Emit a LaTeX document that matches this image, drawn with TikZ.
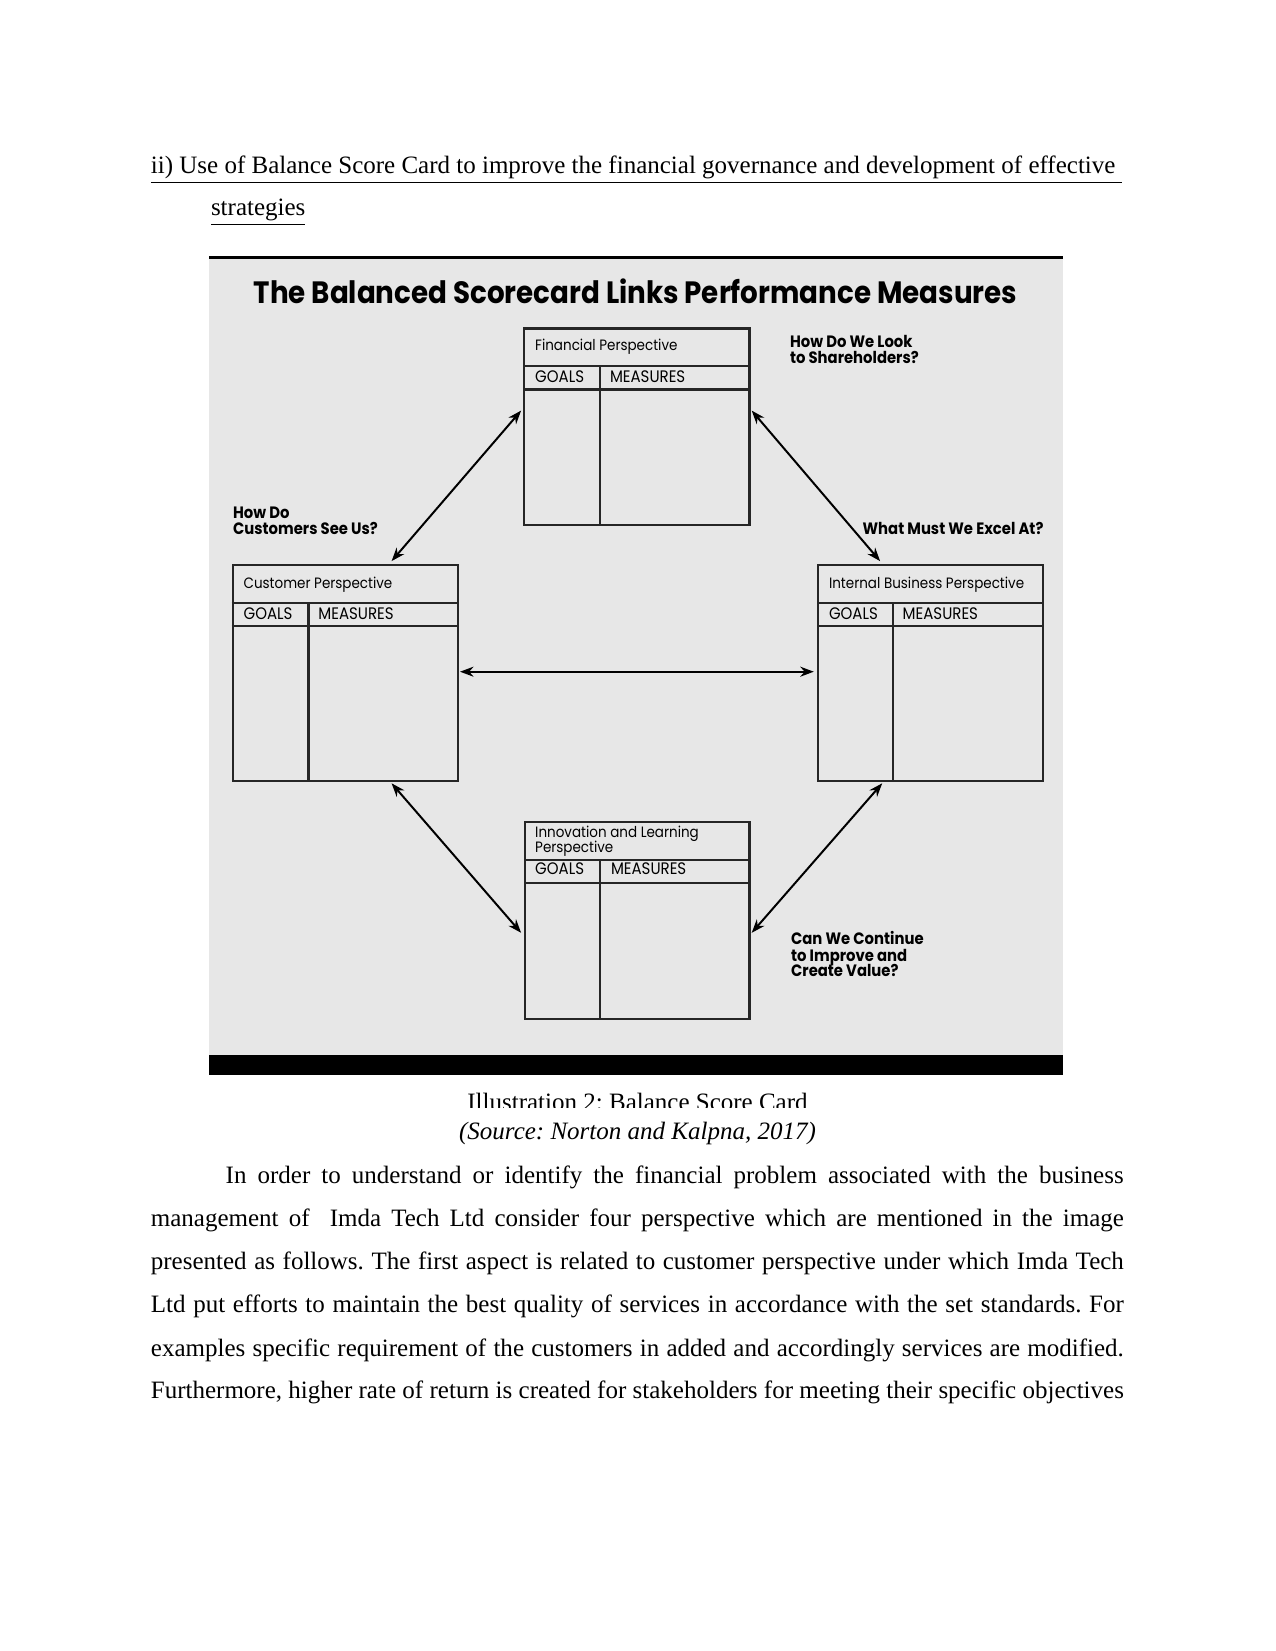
\documentclass[tikz,border=0pt]{standalone}
\usepackage{fontspec}
\setmainfont{Liberation Serif}
\newfontfamily\dfont[FakeStretch=0.9]{Poppins}
\usetikzlibrary{arrows.meta}
\definecolor{panel}{RGB}{231,231,231}
\frenchspacing
\tikzset{
  boxline/.style={line width=1.05pt, draw=black!85},
  hdr/.style={font=\dfont\fontsize{7.2}{7.4}\selectfont, anchor=base west, inner sep=0pt},
  caps/.style={font=\dfont\fontsize{8}{8}\selectfont, anchor=base west, inner sep=0pt},
  qlab/.style={font=\dfont\bfseries\fontsize{7.9}{8.2}\selectfont, anchor=base west, inner sep=0pt},
  link/.style={line width=0.95pt, {Stealth[length=6.5pt,width=4.8pt]}-{Stealth[length=6.5pt,width=4.8pt]}},
  body/.style={font=\fontsize{12}{14}\selectfont, anchor=base west, inner sep=0pt}
}
\begin{document}
\begin{tikzpicture}[x=0.48pt,y=-0.48pt]
\useasboundingbox (0,0) rectangle (1275,1651);
\fill[white] (0,0) rectangle (1275,1651);
% heading
\node[body] (h1) at (150.5,174) {\underline{ii) Use of Balance Score Card to improve the financial governance and development of effective\ }};
\node[body] (h2) at (210.6,216) {\underline{strategies}};
% panel
\fill[panel] (208.5,258) rectangle (1063.3,1055);
\fill[black] (208.5,256.3) rectangle (1063.3,259.2);
\fill[black] (208.5,1055) rectangle (1063.3,1075);
\node[font=\dfont\bfseries\fontsize{14.8}{16}\selectfont, anchor=base, inner sep=0pt] (title) at (635.5,304) {The Balanced Scorecard Links Performance Measures};
% financial
\node[boxline, draw, anchor=north west, minimum width=108.1pt, minimum height=94.5pt, inner sep=0pt] (fin) at (523.2,327.4) {};
\draw[boxline] (523.2,366.4) -- (748.5,366.4) (523.2,389.5) -- (748.5,389.5) (600.1,366.4) -- (600.1,524.3);
\node[hdr] (finT) at (534.8,350) {Financial Perspective};
\node[caps] (finG) at (534.8,382) {GOALS};
\node[caps] (finM) at (609.6,382) {MEASURES};
% customer
\node[boxline, draw, anchor=north west, minimum width=108.1pt, minimum height=103.5pt, inner sep=0pt] (cus) at (231.6,564.3) {};
\draw[boxline] (231.6,603.2) -- (456.9,603.2) (231.6,626.4) -- (456.9,626.4) (308.5,603.2) -- (308.5,780.1);
\node[hdr] (cusT) at (243.2,588) {Customer Perspective};
\node[caps] (cusG) at (243.2,619) {GOALS};
\node[caps] (cusM) at (318,619) {MEASURES};
% internal
\node[boxline, draw, anchor=north west, minimum width=108.1pt, minimum height=103.5pt, inner sep=0pt] (int) at (817,564.3) {};
\draw[boxline] (817,603.2) -- (1042.3,603.2) (817,626.4) -- (1042.3,626.4) (892.8,603.2) -- (892.8,780.1);
\node[hdr] (intT) at (828.6,588) {Internal Business Perspective};
\node[caps] (intG) at (828.6,619) {GOALS};
\node[caps] (intM) at (902.3,619) {MEASURES};
% innovation
\node[boxline, draw, anchor=north west, minimum width=107.6pt, minimum height=94.4pt, inner sep=0pt] (inn) at (524.3,821.2) {};
\draw[boxline] (524.3,860.1) -- (748.5,860.1) (524.3,883.3) -- (748.5,883.3) (600.1,860.1) -- (600.1,1018);
\node[hdr] (innT1) at (534.8,837.5) {Innovation and Learning};
\node[hdr] (innT2) at (534.8,852) {Perspective};
\node[caps] (innG) at (534.8,874.5) {GOALS};
\node[caps] (innM) at (610.6,874.5) {MEASURES};
% question labels
\node[qlab] (q1a) at (789.6,347) {How Do We Look};
\node[qlab] (q1b) at (789.6,363) {to Shareholders?};
\node[qlab] (q2a) at (232.7,518.5) {How Do};
\node[qlab] (q2b) at (232.7,534.5) {Customers See Us?};
\node[qlab] (q3) at (862.2,534.5) {What Must We Excel At?};
\node[qlab] (q4a) at (790.7,944) {Can We Continue};
\node[qlab] (q4b) at (790.7,961) {to Improve and};
\node[qlab] (q4c) at (790.7,976.5) {Create Value?};
% arrow end points
\coordinate (finL) at (521.1,410.6);
\coordinate (finR) at (751.7,410.6);
\coordinate (cusTop) at (391.6,561.1);
\coordinate (intTop) at (880.1,561.1);
\coordinate (cusRt) at (460,671.7);
\coordinate (intLt) at (813.8,671.7);
\coordinate (cusBot) at (391.6,783.3);
\coordinate (intBot) at (882.2,783.3);
\coordinate (innL) at (521.1,932.8);
\coordinate (innR) at (751.7,932.8);
\draw[link] (cusTop) -- (finL);
\draw[link] (finR) -- (intTop);
\draw[link] (cusRt) -- (intLt);
\draw[link] (cusBot) -- (innL);
\draw[link] (intBot) -- (innR);
% caption (clipped)
\begin{scope}
\clip (200,1076) rectangle (1075,1107);
\node[font=\fontsize{12}{14}\selectfont, anchor=base, inner sep=0pt] (cap) at (637.5,1110.5) {Illustration 2: Balance Score Card};
\end{scope}
\node[font=\itshape\fontsize{12}{14}\selectfont, anchor=base, inner sep=0pt] (src) at (637.5,1139.5) {(Source: Norton and Kalpna, 2017)};
% paragraph
\node[body] (p1) at (225.3,1183.4) {\makebox[431pt][s]{In order to understand or identify the financial problem associated with the business}};
\node[body] (p2) at (150.5,1226.5) {\makebox[467pt][s]{management of\ \ Imda Tech Ltd consider four perspective which are mentioned in the image}};
\node[body] (p3) at (150.5,1269.7) {\makebox[467pt][s]{presented as follows. The first aspect is related to customer perspective under which Imda Tech}};
\node[body] (p4) at (150.5,1312.8) {\makebox[467pt][s]{Ltd put efforts to maintain the best quality of services in accordance with the set standards. For}};
\node[body] (p5) at (150.5,1356) {\makebox[467pt][s]{examples specific requirement of the customers in added and accordingly services are modified.}};
\node[body] (p6) at (150.5,1398.1) {\makebox[467pt][s]{Furthermore, higher rate of return is created for stakeholders for meeting their specific objectives}};
\end{tikzpicture}
\end{document}
